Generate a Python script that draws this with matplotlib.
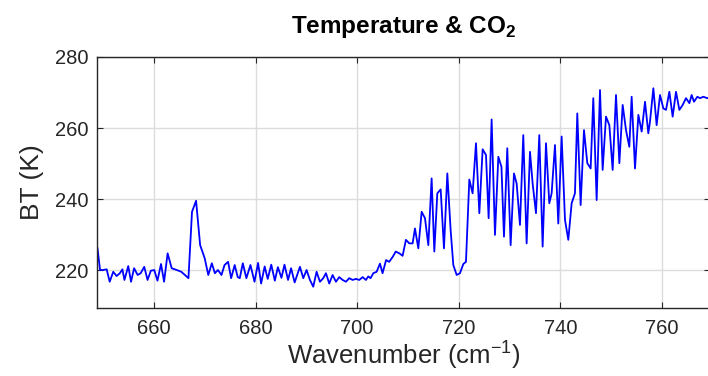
import matplotlib.pyplot as plt

# wavenumber (cm-1) and brightness temperature (K)
wn = [648.9, 649.4, 650.0, 650.7, 651.3, 652.0, 652.65, 653.3, 653.8, 654.2,
      654.95, 655.5, 656.1, 656.8, 657.4, 658.1, 658.75, 659.4, 660.07, 660.7,
      661.4, 662.0, 662.7, 663.5, 664.5, 665.4, 666.8, 667.5, 668.3, 669.1,
      670.0, 670.7, 671.4, 672.0, 672.6, 673.3, 673.9, 674.6, 675.2, 675.9,
      676.5, 676.9, 677.5, 678.2, 679.0, 679.8, 680.5, 681.1, 681.8, 682.4,
      683.1, 683.8, 684.4, 685.1, 685.7, 686.4, 687.0, 687.7, 688.74, 689.4,
      690.05, 690.71, 691.36, 692.02, 692.68, 693.33, 693.86, 694.51, 695.17, 695.83,
      696.48, 697.14, 697.8, 698.45, 699.11, 699.76, 700.42, 701.08, 701.73, 702.19,
      702.65, 703.18, 703.84, 704.49, 705.0, 705.7, 706.3, 707.0, 707.6, 708.3,
      708.95, 709.6, 710.27, 710.92, 711.38, 712.04, 712.7, 713.35, 714.01, 714.66,
      715.19, 715.78, 716.44, 717.09, 717.75, 718.4, 718.93, 719.59, 720.24, 720.9,
      721.42, 722.08, 722.73, 723.39, 724.05, 724.7, 725.36, 725.88, 726.47, 727.13,
      727.79, 728.4, 728.9, 729.55, 730.21, 730.87, 731.39, 732.05, 732.7, 733.36,
      734.02, 734.54, 735.2, 735.85, 736.51, 737.17, 737.82, 738.28, 738.94, 739.59,
      740.25, 740.91, 741.56, 742.22, 742.87, 743.33, 743.99, 744.65, 745.3, 745.96,
      746.48, 747.14, 747.8, 748.32, 748.98, 749.64, 750.29, 750.95, 751.61, 752.26,
      752.92, 753.57, 754.03, 754.69, 755.35, 756.0, 756.66, 757.31, 757.64, 758.3,
      758.95, 759.61, 760.27, 760.79, 761.45, 762.1, 762.76, 763.42, 764.07, 764.73,
      765.39, 765.84, 766.3, 766.96, 767.49, 768.14, 768.93, 769.5]
bt = [226.1, 220.0, 220.0, 220.2, 216.7, 219.5, 218.3, 219.1, 220.2, 217.2,
      221.1, 216.7, 220.5, 218.6, 219.1, 220.9, 217.2, 219.8, 220.0, 217.0,
      221.7, 216.7, 224.7, 220.5, 220.0, 219.5, 217.7, 236.4, 239.5, 227.0,
      223.3, 218.6, 221.9, 219.1, 220.0, 218.6, 221.4, 222.3, 217.7, 221.4,
      218.0, 217.7, 221.9, 217.7, 221.4, 216.7, 222.0, 216.2, 221.0, 217.5,
      221.5, 217.0, 220.8, 217.8, 221.5, 217.2, 220.5, 216.5, 220.9, 217.7,
      220.0, 217.2, 215.3, 219.5, 216.7, 217.7, 219.1, 216.2, 218.6, 216.7,
      218.0, 217.2, 216.7, 217.7, 217.2, 217.5, 217.2, 218.0, 217.2, 218.2,
      217.7, 219.1, 219.5, 221.8, 219.1, 222.8, 222.3, 223.7, 225.2, 224.7,
      224.0, 228.5, 227.5, 227.5, 231.7, 226.1, 236.4, 234.6, 227.0, 245.8,
      225.2, 241.6, 242.7, 226.1, 247.2, 231.3, 221.4, 218.6, 219.1, 221.7,
      222.3, 245.5, 241.6, 255.7, 236.0, 254.0, 252.4, 234.6, 262.4, 229.9,
      251.9, 249.1, 229.4, 254.3, 227.0, 247.2, 244.4, 232.7, 258.0, 227.5,
      253.3, 244.4, 236.0, 258.0, 226.6, 255.7, 238.8, 241.6, 255.2, 233.1,
      257.6, 234.1, 228.5, 238.8, 241.6, 264.1, 238.3, 259.4, 250.1, 248.6,
      268.4, 239.7, 270.7, 248.2, 263.2, 260.8, 248.2, 269.3, 250.1, 266.5,
      259.4, 254.7, 268.8, 248.6, 263.7, 259.0, 267.4, 258.5, 261.8, 271.2,
      260.8, 269.3, 265.5, 265.1, 270.2, 263.2, 270.2, 265.1, 266.5, 268.4,
      267.0, 269.3, 267.4, 268.8, 268.4, 268.8, 268.4, 268.6]

xticks = [660, 680, 700, 720, 740, 760]
yticks = [220, 240, 260, 280]

plt.rcParams['font.family'] = ['Liberation Sans', 'DejaVu Sans']
plt.rcParams['mathtext.fontset'] = 'custom'
plt.rcParams['mathtext.rm'] = 'Liberation Sans'
plt.rcParams['mathtext.bf'] = 'Liberation Sans:bold'

fig = plt.figure(figsize=(7.08, 3.76), dpi=100)
ax = fig.add_axes([97 / 708, 1 - 308 / 376, 613 / 708, 251 / 376])

ax.plot(wn, bt, color='#0000ff', lw=1.3)

ax.set_xlim(648.8, 769.45)
ax.set_ylim(209.3, 280)
ax.set_xticks(xticks)
ax.set_yticks(yticks)
ax.grid(True, color='#dcdcdc', lw=1.0)
ax.set_axisbelow(True)
ax.tick_params(direction='in', length=4, labelsize=14.5, colors='#262626',
               top=True, right=True)
ax.tick_params(axis='x', pad=8)
ax.tick_params(axis='y', pad=6)
for s in ax.spines.values():
    s.set_color('#262626')
    s.set_linewidth(1.0)

ax.set_xlabel(r'Wavenumber (cm$^{-1}$)', fontsize=18.5, color='#262626', labelpad=0)
ax.set_ylabel('BT (K)', fontsize=19, color='#262626', labelpad=8)
ax.set_title(r'Temperature & CO$_\mathbf{2}$', fontsize=17.5, fontweight='bold',
             pad=17)

fig.savefig('out.png', dpi=100)
